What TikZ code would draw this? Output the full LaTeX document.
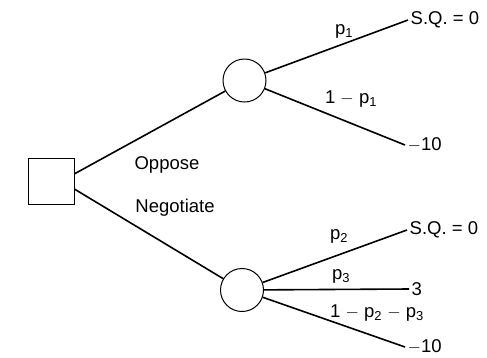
\documentclass[tikz,border=0pt]{standalone}
\usepackage{fontspec}
\setmainfont{Liberation Sans}
\usetikzlibrary{positioning}
\tikzset{
  decision/.style={draw,line width=1pt,minimum size=46pt,inner sep=0pt},
  chance/.style={draw,circle,line width=1pt,minimum size=43pt,inner sep=0pt},
  payoff/.style={anchor=west,inner sep=0pt,inner xsep=2.5pt,
    font=\fontsize{18.5}{20}\selectfont},
  lbl/.style={inner sep=0pt,font=\fontsize{18.5}{20}\selectfont},
  branch/.style={line width=1.6pt},
}

\begin{document}
\begin{tikzpicture}[x=1pt,y=-1pt]
  \useasboundingbox (0,0) rectangle (487,357);

  % decision and chance nodes
  \node[decision] (dec) at (51,181) {};
  \node[chance] (opp) at (244.5,80.5) {};
  \node[chance] (neg) at (242,290) {};

  % outcomes
  \node[payoff] (oppSQ) at (408,20) {S.Q. = 0};
  \node[payoff] (oppLoss) at (405,145) {$-$10};
  \node[payoff] (negSQ) at (407,230) {S.Q. = 0};
  \node[payoff] (negMid) at (409,289) {3};
  \node[payoff] (negLoss) at (405,347) {$-$10};

  % branches
  \draw[branch] (dec.17) -- (opp);
  \draw[branch] (dec.-19) -- (neg);
  \draw[branch] (opp) -- (oppSQ.west);
  \draw[branch] (opp) -- (oppLoss.west);
  \draw[branch] (neg) -- (negSQ.west);
  \draw[branch] (neg) -- (negMid.west);
  \draw[branch] (neg) -- (negLoss.west);

  % branch labels
  \node[lbl] (oppose) at (167,165) {Oppose};
  \node[lbl] (negotiate) at (175,208) {Negotiate};
  \node[lbl] (pOne) at (344,31) {p\textsubscript{1}};
  \node[lbl] (qOne) at (351,99) {1 $-$ p\textsubscript{1}};
  \node[lbl] (pTwo) at (339,236) {p\textsubscript{2}};
  \node[lbl] (pThree) at (341,276) {p\textsubscript{3}};
  \node[lbl] (qRest) at (377,313) {1 $-$ p\textsubscript{2} $-$ p\textsubscript{3}};
\end{tikzpicture}
\end{document}
